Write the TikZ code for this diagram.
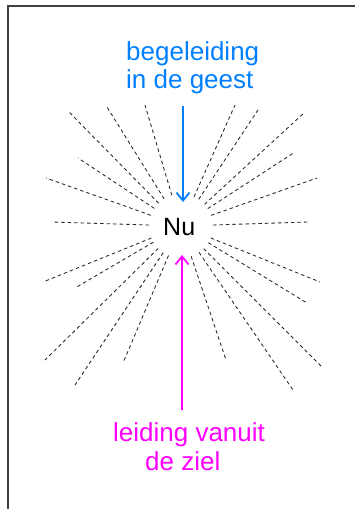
\documentclass[tikz,border=0pt]{standalone}
\usepackage{fontspec}
\setmainfont{Liberation Sans}
\usetikzlibrary{arrows.meta,calc}
\definecolor{geestblue}{RGB}{0,128,255}
\definecolor{zielmag}{RGB}{255,0,255}
\begin{document}
\begin{tikzpicture}[x=1pt,y=-1pt,
  ray/.style={draw=black!85, line width=0.85pt, dash pattern=on 3.5pt off 3pt},
  lbl/.style={inner sep=0pt, anchor=base west, font=\fontsize{26}{30}\selectfont},
  arr/.style={line width=1.8pt, -{Straight Barb[length=8pt,width=13pt]}}]
\useasboundingbox (0,0) rectangle (355,509);
\fill[white] (0,0) rectangle (355,509);
% frame
\draw[black!75, line width=1.4pt] (8,509) -- (8,6) -- (355,6);
% centre
\coordinate (c) at (181,226);
% rays
\foreach \px/\py in {69/112,107/107,145/105,78/158,46/178,52/222,
                     235/105,258/110,305/112,295/152,317/178,308/222,
                     43/282,75/288,45/360,75/385,123/363,
                     320/282,307/303,322/367,293/390,226/360}
  {\draw[ray] ($(c)!32pt!(\px,\py)$) -- (\px,\py);}
% texts
\node[lbl] (nu) at (163,235) {\fontsize{25}{30}\selectfont Nu};
\node[lbl, text=geestblue] (bl1) at (126,60) {begeleiding};
\node[lbl, text=geestblue] (bl2) at (126,88) {in de geest};
\node[lbl, text=zielmag] (ml1) at (113,441) {leiding vanuit};
\node[lbl, text=zielmag] (ml2) at (145,470) {de ziel};
% arrows
\coordinate (bs) at (183,106);
\coordinate (bt) at (183,202);
\coordinate (ms) at (182,410);
\coordinate (mt) at (182,255);
\draw[arr, geestblue] (bs) -- (bt);
\draw[arr, zielmag] (ms) -- (mt);
\end{tikzpicture}
\end{document}
